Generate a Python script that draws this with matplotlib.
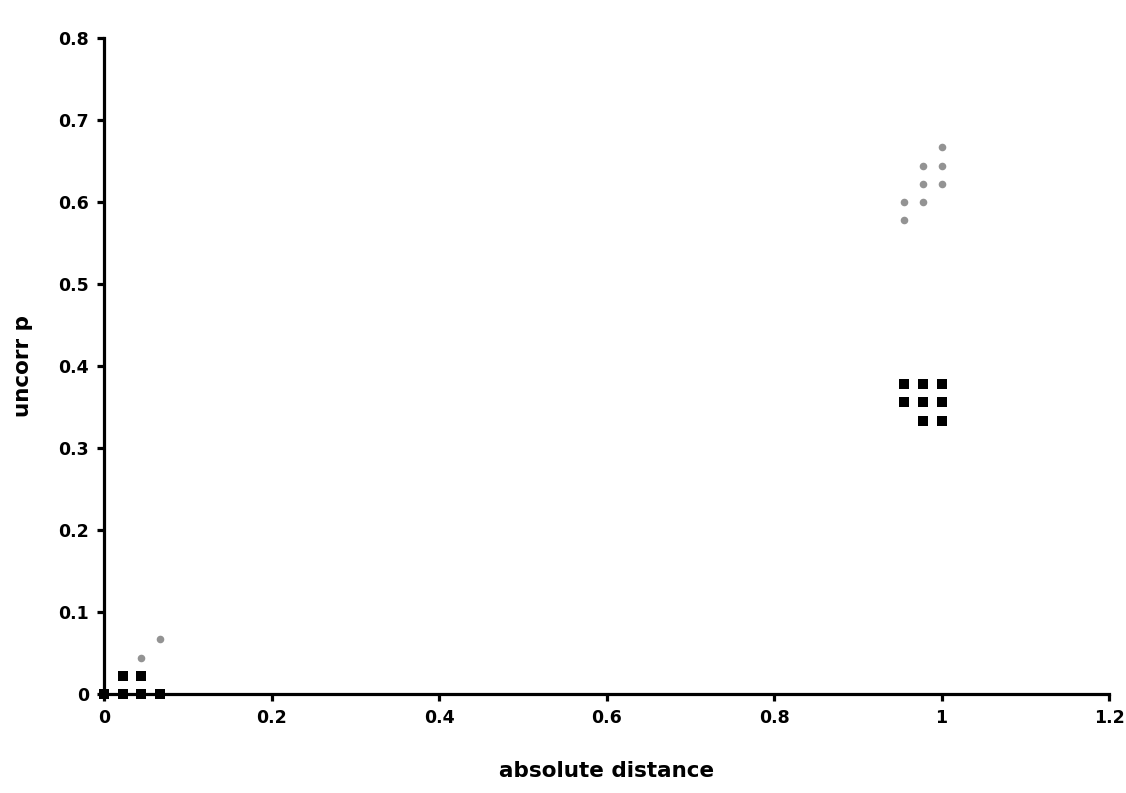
import matplotlib
matplotlib.use("Agg")
import matplotlib.pyplot as plt

# Series 1: black squares
sq_x = [0.0, 0.0222, 0.0444, 0.0667, 0.0222, 0.0444,
        0.9556, 0.9778, 1.0, 0.9556, 0.9778, 1.0, 0.9778, 1.0]
sq_y = [0.0, 0.0, 0.0, 0.0, 0.0222, 0.0222,
        0.3778, 0.3778, 0.3778, 0.3556, 0.3556, 0.3556, 0.3333, 0.3333]

# Series 2: gray circles
ci_x = [0.0, 0.0444, 0.0667,
        0.9556, 0.9556, 0.9778, 0.9778, 0.9778, 1.0, 1.0, 1.0]
ci_y = [0.0, 0.0444, 0.0667,
        0.6, 0.5778, 0.6444, 0.6222, 0.6, 0.6667, 0.6444, 0.6222]

x_ticks = [0, 0.2, 0.4, 0.6, 0.8, 1, 1.2]
x_labels = ["0", "0.2", "0.4", "0.6", "0.8", "1", "1.2"]
y_ticks = [0, 0.1, 0.2, 0.3, 0.4, 0.5, 0.6, 0.7, 0.8]
y_labels = ["0", "0.1", "0.2", "0.3", "0.4", "0.5", "0.6", "0.7", "0.8"]

fig = plt.figure(figsize=(11.26, 7.93), dpi=100)
ax = fig.add_axes([0.0924, 0.1248, 0.8926, 0.8272])

ax.scatter(ci_x, ci_y, marker="o", s=30, color="#939393", linewidths=0, zorder=3, clip_on=False)
ax.scatter(sq_x, sq_y, marker="s", s=48, color="black", linewidths=0, zorder=4, clip_on=False)

ax.set_xlim(0, 1.2)
ax.set_ylim(0, 0.8)
ax.set_xticks(x_ticks)
ax.set_xticklabels(x_labels)
ax.set_yticks(y_ticks)
ax.set_yticklabels(y_labels)

for s in ["top", "right"]:
    ax.spines[s].set_visible(False)
for s in ["left", "bottom"]:
    ax.spines[s].set_linewidth(2.3)
    ax.spines[s].set_color("black")

ax.tick_params(axis="both", direction="out", length=5, width=2.3, color="black",
               labelsize=12.5, pad=6)
for lab in ax.get_xticklabels() + ax.get_yticklabels():
    lab.set_fontweight("bold")

ax.set_xlabel("absolute distance", fontsize=15.5, fontweight="bold", labelpad=24)
ax.set_ylabel("uncorr p", fontsize=15.5, fontweight="bold", labelpad=18)

fig.savefig("out.png", dpi=100)
